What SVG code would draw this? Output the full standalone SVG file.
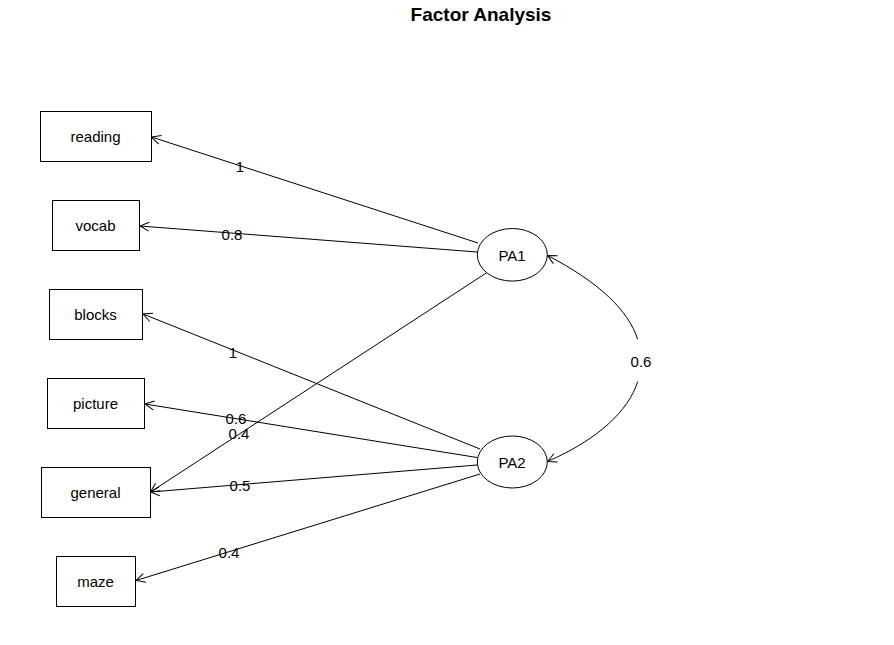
<svg xmlns="http://www.w3.org/2000/svg" width="894" height="645" viewBox="0 0 894 645">
<style>
  text { font-family: "Liberation Sans", Arial, sans-serif; font-size: 15px; fill: #000; text-anchor: middle; }
  .title { font-weight: bold; font-size: 19px; }
  .box { fill: #fff; stroke: #000; stroke-width: 1; }
  .edge { fill: none; stroke: #000; stroke-width: 1; }
</style>
<defs>
  <marker id="arr" markerUnits="userSpaceOnUse" markerWidth="20" markerHeight="20" viewBox="-10 -10 20 20" refX="0" refY="0" orient="auto-start-reverse">
    <path d="M-9,-4.5 L0,0 L-9,4.5" fill="none" stroke="#000" stroke-width="1"/>
  </marker>
</defs>
<rect width="894" height="645" fill="#fff"/>
<text class="title" x="481" y="21">Factor Analysis</text>

<g id="connectors">
  <line class="edge" x1="478" y1="243" x2="151.5" y2="137" marker-end="url(#arr)"/>
  <line class="edge" x1="477" y1="252" x2="140" y2="226" marker-end="url(#arr)"/>
  <line class="edge" x1="487" y1="272.5" x2="150.5" y2="492" marker-end="url(#arr)"/>
  <line class="edge" x1="480" y1="449" x2="143" y2="314" marker-end="url(#arr)"/>
  <line class="edge" x1="477" y1="457.5" x2="145" y2="404" marker-end="url(#arr)"/>
  <line class="edge" x1="477" y1="465" x2="150.5" y2="492" marker-end="url(#arr)"/>
  <line class="edge" x1="480" y1="474" x2="136" y2="580.5" marker-end="url(#arr)"/>
  <path class="edge" d="M637.7,339.4 C628.5,310.3 598.3,281.7 547.5,255.5" marker-end="url(#arr)"/>
  <path class="edge" d="M637.7,381.6 C628.5,410.7 598.3,439.3 547.5,461.5" marker-end="url(#arr)"/>
  <text x="240" y="172">1</text>
  <text x="232" y="240">0.8</text>
  <text x="233" y="358">1</text>
  <text x="236" y="424">0.6</text>
  <text x="239" y="439">0.4</text>
  <text x="240" y="491">0.5</text>
  <text x="229" y="558">0.4</text>
  <text x="641" y="367">0.6</text>
</g>

<g id="reading"><rect class="box" x="40.5" y="111.5" width="111" height="50"/><text x="95.5" y="141.5">reading</text></g>
<g id="vocab"><rect class="box" x="52.5" y="200.5" width="87" height="50"/><text x="95.5" y="230.5">vocab</text></g>
<g id="blocks"><rect class="box" x="49.5" y="289.5" width="93" height="50"/><text x="95.5" y="319.5">blocks</text></g>
<g id="picture"><rect class="box" x="47.5" y="378.5" width="97" height="50"/><text x="95.5" y="408.5">picture</text></g>
<g id="general"><rect class="box" x="41.5" y="467.5" width="109" height="50"/><text x="95.5" y="497.5">general</text></g>
<g id="maze"><rect class="box" x="56.5" y="556.5" width="79" height="50"/><text x="95.5" y="586.5">maze</text></g>
<g id="PA1"><ellipse class="box" cx="512.3" cy="254.8" rx="35" ry="26.3"/><text x="512" y="261">PA1</text></g>
<g id="PA2"><ellipse class="box" cx="512.3" cy="462" rx="35" ry="26"/><text x="512" y="468">PA2</text></g>
</svg>
